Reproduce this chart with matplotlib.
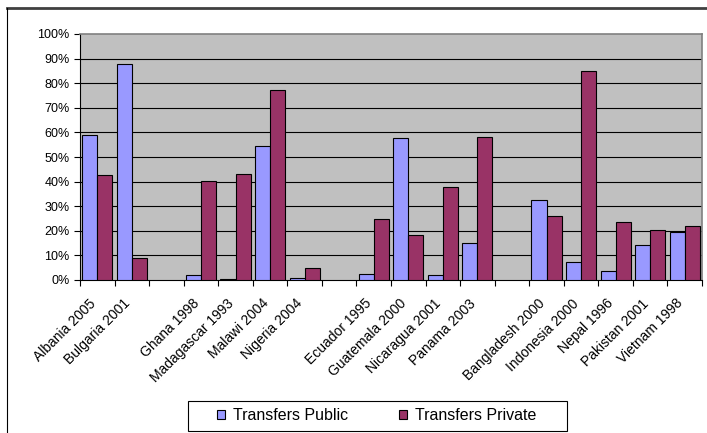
import matplotlib
matplotlib.use('Agg')
import matplotlib.pyplot as plt
from matplotlib.lines import Line2D
from matplotlib.patches import Rectangle
from matplotlib.transforms import ScaledTranslation
import numpy as np

plt.rcParams['font.family'] = ['Liberation Sans', 'DejaVu Sans']

# empty strings are the gaps between regions
countries = ['Albania 2005', 'Bulgaria 2001', '',
             'Ghana 1998', 'Madagascar 1993', 'Malawi 2004', 'Nigeria 2004', '',
             'Ecuador 1995', 'Guatemala 2000', 'Nicaragua 2001', 'Panama 2003', '',
             'Bangladesh 2000', 'Indonesia 2000', 'Nepal 1996', 'Pakistan 2001', 'Vietnam 1998']
public = [58.9, 87.9, None,
          2.0, 0.5, 54.3, 1.0, None,
          2.4, 57.8, 1.9, 15.1, None,
          32.6, 7.3, 3.5, 14.1, 19.5]
private = [42.6, 9.0, None,
           40.4, 43.1, 77.3, 5.0, None,
           24.6, 18.3, 37.9, 58.3, None,
           26.2, 84.8, 23.6, 20.5, 22.0]

W, H = 707, 433
fig = plt.figure(figsize=(W / 100, H / 100), dpi=100)
ax = fig.add_axes([80 / W, 153 / H, 622 / W, 246 / H])
ax.set_facecolor('#C0C0C0')

x = np.arange(len(countries))
idx = [i for i, v in enumerate(public) if v is not None]
bw = 1 / 2.3
pub = np.array([public[i] for i in idx]) / 100
pri = np.array([private[i] for i in idx]) / 100
xi = x[idx]
ax.bar(xi - bw / 2, pub, bw, color='#9999FF', edgecolor='black', linewidth=0.8,
       label='Transfers Public', zorder=3)
ax.bar(xi + bw / 2, pri, bw, color='#993366', edgecolor='black', linewidth=0.8,
       label='Transfers Private', zorder=3)

ax.set_xlim(-0.5, len(countries) - 0.5)
ax.set_ylim(0, 1)
ax.set_yticks(np.arange(0, 1.01, 0.1))
ax.set_yticklabels(['%d%%' % v for v in range(0, 101, 10)], fontsize=9)
for v in np.arange(0.1, 0.95, 0.1):
    ax.axhline(v, color='black', linewidth=0.8, zorder=1)

ax.set_xticks(np.arange(-0.5, len(countries), 1))
ax.set_xticklabels([])
ax.set_xticks(x, minor=True)
ax.set_xticklabels(countries, minor=True, rotation=45, ha='right', va='top',
                   rotation_mode='anchor', fontsize=10)
ax.tick_params(axis='x', which='minor', length=0, pad=6)
ax.tick_params(axis='both', which='major', direction='out', length=4, width=0.8)
shift = ScaledTranslation(-9 / 100, -8 / 100, fig.dpi_scale_trans)
for lab in ax.get_xticklabels(minor=True):
    lab.set_transform(lab.get_transform() + shift)

for s in ['top', 'right']:
    ax.spines[s].set_color('#808080')
    ax.spines[s].set_linewidth(1.2)
for s in ['left', 'bottom']:
    ax.spines[s].set_color('black')
    ax.spines[s].set_linewidth(0.8)

fig.add_artist(Rectangle((188 / W, 1 - 431 / H), 379 / W, 30 / H, transform=fig.transFigure,
                         facecolor='white', edgecolor='black', linewidth=0.8))
fig.legend(loc='center', bbox_to_anchor=(377 / W, 1 - 416 / H),
           ncol=2, fontsize=11.5, frameon=False,
           handlelength=0.5, handleheight=0.5,
           handletextpad=0.5, columnspacing=3.2, borderpad=0.2)

# chart frame (top and left edges visible in the source)
fig.add_artist(Line2D([7 / W, 1], [1 - 7.5 / H, 1 - 7.5 / H], transform=fig.transFigure,
                      color='#404040', linewidth=2))
fig.add_artist(Line2D([7 / W, 7 / W], [0, 1 - 7.5 / H], transform=fig.transFigure,
                      color='black', linewidth=0.8))

fig.savefig('out.png', dpi=100)
